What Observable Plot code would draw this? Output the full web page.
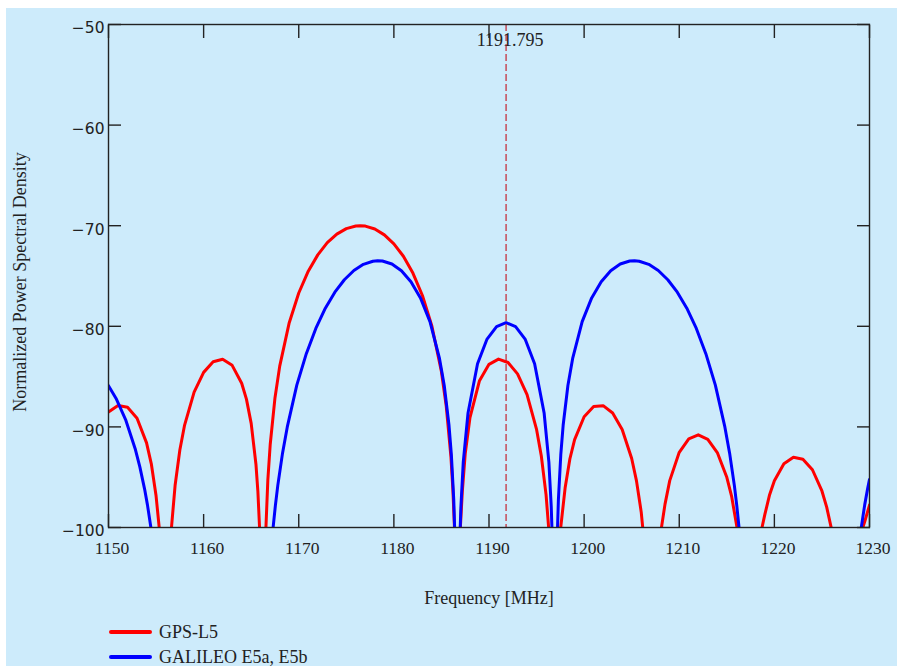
<!DOCTYPE html>
<html>
<head>
<meta charset="utf-8">
<script src="https://cdn.jsdelivr.net/npm/d3@7"></script>
<script src="https://cdn.jsdelivr.net/npm/@observablehq/plot@0.6"></script>
<style>
  html, body { margin: 0; padding: 0; background: #ffffff; }
  #panel { position: absolute; left: 6px; top: 8px; width: 891px; height: 658px; background: #cdebfb; overflow: hidden; }
  #panel svg { display: block; }
  #legend { padding-top: 7.5px; margin-left: 103px; font-family: "Liberation Serif", "Times New Roman", serif; font-size: 18px; color: #222; }
  .row { display: flex; align-items: center; height: 25px; }
  .swatch { width: 43px; height: 3.5px; border-radius: 2px; margin-right: 7px; }
</style>
</head>
<body>
<div id="panel"></div>
<script>
// Frequency axis (MHz) and PSD axis (dB) ticks
const xTicks = [1150, 1160, 1170, 1180, 1190, 1200, 1210, 1220, 1230];
const yTicks = [-100, -90, -80, -70, -60, -50];

// Centre frequency of the Galileo E5 band, marked with a dashed rule
const e5Centre = [1191.795];

// GPS-L5 spectrum, one array of [frequency MHz, dB] per lobe above the -100 dB floor
const gpsL5 = [
  [[1150,-88.51],[1151,-87.87],[1152,-88.04],[1153,-89.14],[1154,-91.59],[1154.5,-93.67],[1155,-96.85],[1155.33,-100]],
  [[1156.62,-100],[1157,-95.83],[1157.5,-92.29],[1158,-89.82],[1159,-86.54],[1160,-84.58],[1161,-83.53],[1162,-83.28],[1163,-83.88],[1164,-85.66],[1164.5,-87.24],[1165,-89.65],[1165.5,-93.71],[1165.7,-96.35],[1165.88,-100]],
  [[1166.55,-100],[1166.75,-95.29],[1167,-91.75],[1167.5,-87.12],[1168,-83.96],[1169,-79.64],[1170,-76.69],[1171,-74.52],[1172,-72.90],[1173,-71.69],[1174,-70.84],[1175,-70.29],[1176,-70.03],[1176.45,-70.00],[1177,-70.04],[1178,-70.33],[1179,-70.91],[1180,-71.80],[1181,-73.04],[1182,-74.71],[1183,-76.94],[1184,-80.00],[1185,-84.52],[1185.5,-87.89],[1186,-93.01],[1186.2,-96.19],[1186.37,-100]],
  [[1186.99,-100],[1187.2,-96.35],[1187.5,-92.68],[1188,-89.08],[1189,-85.41],[1190,-83.78],[1191,-83.26],[1192,-83.60],[1193,-84.73],[1194,-86.80],[1195,-90.25],[1195.5,-92.89],[1196,-96.76],[1196.27,-100]],
  [[1197.54,-100],[1198,-96.08],[1198.5,-93.19],[1199,-91.27],[1200,-88.99],[1201,-87.98],[1202,-87.89],[1203,-88.62],[1204,-90.25],[1205,-93.14],[1205.5,-95.34],[1206,-98.45],[1206.16,-100]],
  [[1208.13,-100],[1208.5,-97.70],[1209,-95.34],[1210,-92.53],[1211,-91.18],[1212,-90.79],[1213,-91.23],[1214,-92.55],[1215,-95.01],[1215.5,-96.88],[1216.07,-100]],
  [[1218.7,-100],[1219,-98.70],[1219.5,-96.74],[1220,-95.35],[1221,-93.66],[1222,-93.01],[1223,-93.21],[1224,-94.26],[1225,-96.37],[1225.5,-97.98],[1225.97,-100]],
  [[1229.3,-100],[1229.5,-99.41],[1230,-97.77]]
];

// Galileo E5a/E5b spectrum, same layout
const galileoE5 = [
  [[1150,-85.90],[1150.795,-87.17],[1151.795,-89.27],[1152.795,-92.14],[1153.295,-93.97],[1153.795,-96.18],[1154.095,-97.75],[1154.455,-100]],
  [[1167.305,-100],[1167.545,-97.80],[1167.795,-95.84],[1168.295,-92.61],[1168.795,-90.00],[1169.795,-85.85],[1170.795,-82.72],[1171.795,-80.21],[1172.795,-78.20],[1173.795,-76.61],[1174.795,-75.37],[1175.795,-74.45],[1176.795,-73.84],[1177.795,-73.53],[1178.295,-73.48],[1178.795,-73.51],[1179.795,-73.81],[1180.795,-74.48],[1181.795,-75.57],[1182.795,-77.18],[1183.795,-79.54],[1184.795,-83.19],[1185.295,-85.89],[1185.795,-89.84],[1186.045,-92.79],[1186.295,-97.25],[1186.385,-100]],
  [[1186.975,-100],[1187.045,-97.98],[1187.295,-93.50],[1187.795,-88.62],[1188.795,-83.73],[1189.795,-81.27],[1190.795,-80.03],[1191.795,-79.64],[1192.795,-80.03],[1193.795,-81.27],[1194.795,-83.73],[1195.795,-88.62],[1196.295,-93.50],[1196.545,-97.98],[1196.615,-100]],
  [[1197.205,-100],[1197.295,-97.25],[1197.545,-92.79],[1197.795,-89.84],[1198.295,-85.89],[1198.795,-83.19],[1199.795,-79.54],[1200.795,-77.18],[1201.795,-75.57],[1202.795,-74.48],[1203.795,-73.81],[1204.795,-73.51],[1205.295,-73.48],[1205.795,-73.53],[1206.795,-73.84],[1207.795,-74.45],[1208.795,-75.37],[1209.795,-76.61],[1210.795,-78.20],[1211.795,-80.21],[1212.795,-82.72],[1213.795,-85.85],[1214.795,-90.00],[1215.295,-92.61],[1215.795,-95.84],[1216.045,-97.80],[1216.285,-100]],
  [[1229.135,-100],[1229.495,-97.75],[1229.795,-96.18],[1230,-95.22]]
];

const seriesNames = ["GPS-L5", "GALILEO E5a, E5b"];
const seriesColors = ["#ff0000", "#0000ff"];

const toRows = (lobes, name) =>
  lobes.flatMap((lobe, i) => lobe.map(([f, p]) => ({f, p, lobe: `${name}-${i}`})));

const gpsRows = toRows(gpsL5, seriesNames[0]);
const galRows = toRows(galileoE5, seriesNames[1]);

const serif = "Liberation Serif, Times New Roman, serif";
const sans = "DejaVu Sans, Verdana, sans-serif";
const ink = "#222";

const innerTicks = (scale, anchor, ticks) =>
  (scale === "x" ? Plot.axisX : Plot.axisY)(ticks, {
    anchor, tickSize: -13, tickFormat: () => "", label: null,
    stroke: ink, strokeWidth: 1.4
  });

const chart = Plot.plot({
  width: 891,
  height: 604,
  marginLeft: 102,
  marginRight: 28,
  marginTop: 16,
  marginBottom: 85,
  style: {background: "transparent", overflow: "visible"},
  x: {domain: [1150, 1230]},
  y: {domain: [-100, -50]},
  marks: [
    Plot.line(gpsRows, {x: "f", y: "p", z: "lobe", stroke: seriesColors[0], strokeWidth: 3, clip: true}),
    Plot.line(galRows, {x: "f", y: "p", z: "lobe", stroke: seriesColors[1], strokeWidth: 3, clip: true}),
    Plot.ruleX(e5Centre, {x: d => d, stroke: "#c4222e", strokeWidth: 1.2, strokeDasharray: "7,3"}),
    Plot.text(e5Centre, {x: d => d, text: d => String(d), frameAnchor: "top", lineAnchor: "top", dy: 9, dx: 4,
      fontFamily: serif, fontSize: 18, fill: ink}),
    Plot.frame({stroke: ink, strokeWidth: 1.4}),
    innerTicks("x", "bottom", xTicks),
    innerTicks("x", "top", xTicks),
    innerTicks("y", "left", yTicks),
    innerTicks("y", "right", yTicks),
    Plot.axisX(xTicks, {anchor: "bottom", tickSize: 0, tickPadding: 13.7, dx: 3.5, label: null,
      tickFormat: d => String(d), fontFamily: serif, fontSize: 17.5, fill: ink}),
    Plot.axisY(yTicks, {anchor: "left", tickSize: 0, tickPadding: 4, dy: 4, label: null,
      fontFamily: sans, fontSize: 15.5, fill: ink}),
    Plot.text(["Frequency [MHz]"], {text: d => d, frameAnchor: "bottom", dy: 71, lineAnchor: "middle",
      fontFamily: serif, fontSize: 18, fill: ink}),
    Plot.text(["Normalized Power Spectral Density"], {text: d => d, frameAnchor: "left", dx: -88, dy: 6,
      rotate: -90, textAnchor: "middle", lineAnchor: "middle", fontFamily: serif, fontSize: 18, fill: ink})
  ]
});

const panel = document.getElementById("panel");
panel.appendChild(chart);

const legend = document.createElement("div");
legend.id = "legend";
seriesNames.forEach((name, i) => {
  const row = document.createElement("div");
  row.className = "row";
  const sw = document.createElement("span");
  sw.className = "swatch";
  sw.style.background = seriesColors[i];
  const label = document.createElement("span");
  label.textContent = name;
  row.append(sw, label);
  legend.appendChild(row);
});
panel.appendChild(legend);
</script>
</body>
</html>
